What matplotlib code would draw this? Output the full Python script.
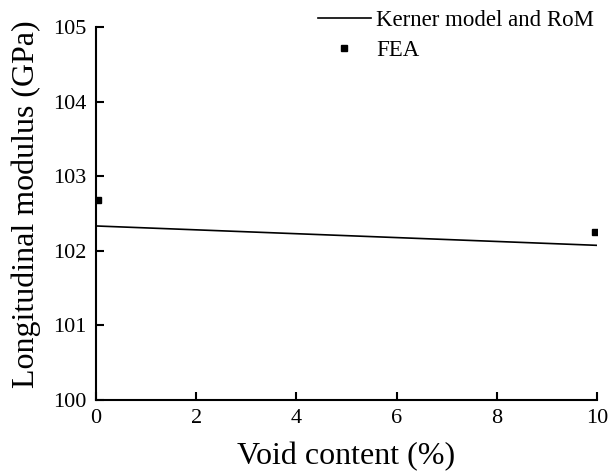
import matplotlib
matplotlib.use("Agg")
import matplotlib.pyplot as plt
import numpy as np

plt.rcParams['font.family'] = ['Liberation Serif', 'DejaVu Serif']

# Kerner model and RoM prediction
void_model = [0, 10]
modulus_model = [102.33, 102.07]

# FEA results
void_fea = [0.04, 9.95]
modulus_fea = [102.68, 102.25]

fig = plt.figure(figsize=(6.08, 4.74), dpi=100)
ax = fig.add_axes([0.158, 0.157, 0.824, 0.786])

ax.plot(void_model, modulus_model, "-", color="black", lw=1.2, label="Kerner model and RoM")
ax.plot(void_fea, modulus_fea, "s", color="black", markersize=5, linestyle="none", label="FEA")

ax.set_xlim(0, 10)
ax.set_ylim(100, 105)
ax.set_xticks(np.arange(0, 11, 2))
ax.set_yticks(np.arange(100, 106, 1))

ax.spines["top"].set_visible(False)
ax.spines["right"].set_visible(False)
for s in ["left", "bottom"]:
    ax.spines[s].set_linewidth(1.5)
ax.tick_params(direction="in", length=6, width=1.5, labelsize=16, pad=7)

ax.set_xlabel("Void content (%)", fontsize=23, labelpad=10)
ax.set_ylabel("Longitudinal modulus (GPa)", fontsize=23)
ax.yaxis.set_label_coords(-0.110, 0.524)

ax.legend(loc="upper right", bbox_to_anchor=(1.036, 1.101), frameon=False, fontsize=16.5,
          handlelength=2.27, handletextpad=0.26, labelspacing=0.37)

fig.savefig("out.png", dpi=100)
